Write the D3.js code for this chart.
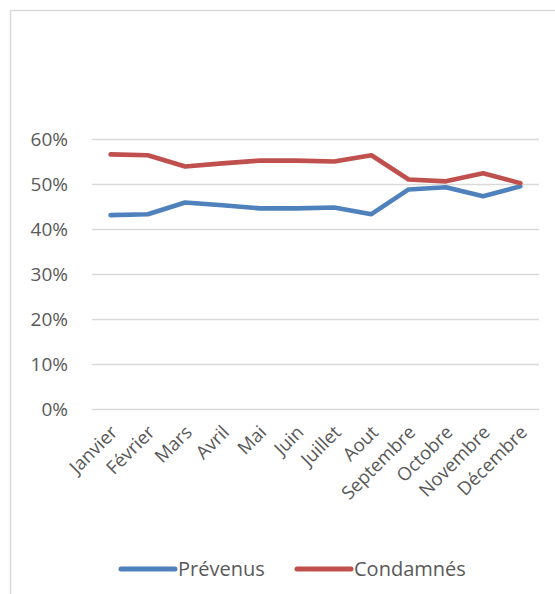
<!DOCTYPE html>
<html>
<head>
<meta charset="utf-8">
<script src="https://cdn.jsdelivr.net/npm/d3@7"></script>
<style>
  html, body { margin: 0; padding: 0; background: #fff; }
  svg { display: block; }
  text { font-family: "Open Sans", Lato, sans-serif; fill: #595959; }
</style>
</head>
<body>
<script>
const months = ["Janvier","Février","Mars","Avril","Mai","Juin","Juillet","Aout","Septembre","Octobre","Novembre","Décembre"];
const prevenus = [0.432,0.434,0.460,0.454,0.447,0.447,0.449,0.434,0.489,0.494,0.474,0.496];
const condamnes = [0.567,0.565,0.540,0.547,0.553,0.553,0.551,0.565,0.511,0.507,0.525,0.503];
const yTicks = [0,0.1,0.2,0.3,0.4,0.5,0.6];
const seriesNames = ["Prévenus","Condamnés"];
const colors = ["#4F81BD","#C0504D"];

const W = 555, H = 594;
const FONT = "'Open Sans', Lato, sans-serif";
const svg = d3.select("body").append("svg").attr("width", W).attr("height", H);

// chart frame (top and left border visible)
svg.append("rect").attr("x", 10.5).attr("y", 10.5).attr("width", 600).attr("height", 650)
  .attr("fill", "none").attr("stroke", "#D9D9D9").attr("stroke-width", 1.5);

const x = d3.scaleBand().domain(months).range([92, 539]);
const y = d3.scaleLinear().domain([0, 0.6]).range([409.5, 139.5]);

// gridlines
svg.append("g").selectAll("line").data(yTicks).join("line")
  .attr("x1", 92).attr("x2", 539)
  .attr("y1", d => y(d)).attr("y2", d => y(d))
  .attr("stroke", "#D9D9D9").attr("stroke-width", 1.3);

// y axis labels
const yAxis = d3.axisLeft(y).tickValues(yTicks).tickFormat(d3.format(".0%")).tickSize(0).tickPadding(0);
const gy = svg.append("g").attr("transform", "translate(68,0)").call(yAxis);
gy.select(".domain").remove();
gy.selectAll("text").attr("font-size", 19).attr("fill", "#595959")
  .style("font-family", FONT);

// x axis labels
const xAxis = d3.axisBottom(x).tickSize(0).tickPadding(0);
const gx = svg.append("g").attr("transform", "translate(0,409.5)").call(xAxis);
gx.select(".domain").remove();
gx.selectAll("text")
  .attr("font-size", 18.5).attr("fill", "#595959")
  .style("font-family", FONT)
  .attr("text-anchor", "end")
  .attr("dy", 0)
  .attr("transform", "translate(8,24) rotate(-45)");

// lines
const line = d3.line().x((d, i) => x(months[i]) + x.bandwidth() / 2).y(d => y(d));
[prevenus, condamnes].forEach((s, k) => {
  svg.append("path").datum(s).attr("d", line)
    .attr("fill", "none").attr("stroke", colors[k]).attr("stroke-width", 4.6)
    .attr("stroke-linejoin", "round").attr("stroke-linecap", "round");
});

// legend
const legendItems = [{x1: 121, x2: 175, tx: 178}, {x1: 297, x2: 351, tx: 354}];
legendItems.forEach((p, k) => {
  svg.append("line").attr("x1", p.x1).attr("x2", p.x2).attr("y1", 569).attr("y2", 569)
    .attr("stroke", colors[k]).attr("stroke-width", 5).attr("stroke-linecap", "round");
  svg.append("text").attr("x", p.tx).attr("y", 576).attr("font-size", 20)
    .style("font-family", FONT).text(seriesNames[k]);
});
</script>
</body>
</html>
